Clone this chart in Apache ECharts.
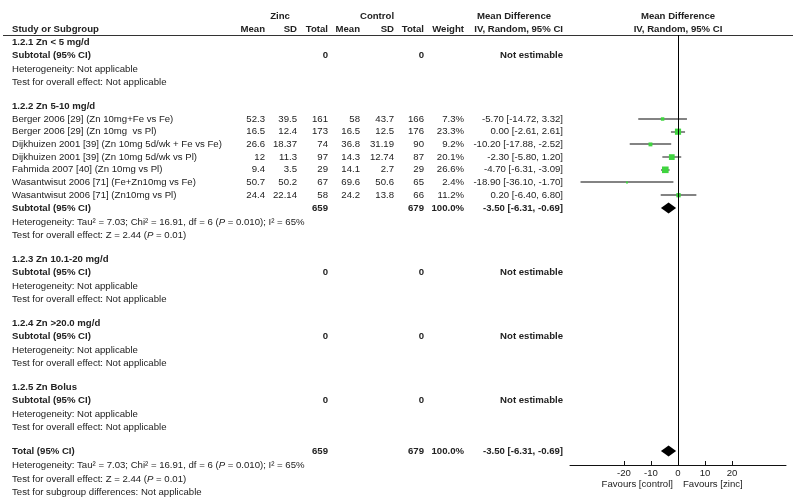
<!DOCTYPE html>
<html><head><meta charset="utf-8">
<script src="https://cdn.jsdelivr.net/npm/echarts@6/dist/echarts.min.js"></script>
<style>html,body{margin:0;padding:0;background:#fff}#c{width:799px;height:500px}</style>
</head><body><div id="c"></div>
<script>
// ---------------- data ----------------
const subgroups = ["1.2.1 Zn < 5 mg/d", "1.2.2 Zn 5-10 mg/d", "1.2.3 Zn 10.1-20 mg/d", "1.2.4 Zn >20.0 mg/d", "1.2.5 Zn Bolus"];
const subgroupStudyCount = [0, 7, 0, 0, 0];
const studies = [
  "Berger 2006 [29] (Zn 10mg+Fe vs Fe)",
  "Berger 2006 [29] (Zn 10mg  vs Pl)",
  "Dijkhuizen 2001 [39] (Zn 10mg 5d/wk + Fe vs Fe)",
  "Dijkhuizen 2001 [39] (Zn 10mg 5d/wk vs Pl)",
  "Fahmida 2007 [40] (Zn 10mg vs Pl)",
  "Wasantwisut 2006 [71] (Fe+Zn10mg vs Fe)",
  "Wasantwisut 2006 [71] (Zn10mg vs Pl)"
];
const zincMean = [52.3, 16.5, 26.6, 12, 9.4, 50.7, 24.4];
const zincSD   = [39.5, 12.4, 18.37, 11.3, 3.5, 50.2, 22.14];
const zincN    = [161, 173, 74, 97, 29, 67, 58];
const ctrlMean = [58, 16.5, 36.8, 14.3, 14.1, 69.6, 24.2];
const ctrlSD   = [43.7, 12.5, 31.19, 12.74, 2.7, 50.6, 13.8];
const ctrlN    = [166, 176, 90, 87, 29, 65, 66];
const weights  = [7.3, 23.3, 9.2, 20.1, 26.6, 2.4, 11.2];
const mdEst    = [-5.70, 0.00, -10.20, -2.30, -4.70, -18.90, 0.20];
const mdLow    = [-14.72, -2.61, -17.88, -5.80, -6.31, -36.10, -6.40];
const mdHigh   = [3.32, 2.61, -2.52, 1.20, -3.09, -1.70, 6.80];
const pooledEst = -3.50, pooledLow = -6.31, pooledHigh = -0.69;
const zincTotal = 659, ctrlTotal = 679;
const hetRich = "Heterogeneity: Tau² = 7.03; Chi² = 16.91, df = 6 ({i|P} = 0.010); I² = 65%";
const overallRich = "Test for overall effect: Z = 2.44 ({i|P} = 0.01)";
const xTicks = [-20, -10, 0, 10, 20];

// ---------------- styles / layout ----------------
const FONT = "'Liberation Sans', Arial, sans-serif";
const FS = 9.6;
const TXT = '#222';
const GREEN = '#3fd43f';
const TOP = 35, BOTTOM = 465;
const col = {name: 12, zm: 265, zsd: 297, zn: 328, cm: 360, csd: 394, cn: 424, w: 464, md: 563};

const texts = [];
function t(str, x, y, opt) {
  opt = opt || {};
  texts.push({
    type: 'text', silent: true,
    style: {
      text: str, x: x, y: y, fill: TXT, fontFamily: FONT, fontSize: FS,
      fontWeight: opt.bold ? 'bold' : 'normal', align: opt.align || 'left', verticalAlign: 'middle',
      rich: {i: {fontStyle: 'italic', fontFamily: FONT, fontSize: FS, fill: TXT, fontWeight: opt.bold ? 'bold' : 'normal'}}
    }
  });
}
const fmt = v => String(v);
const ci = (e, l, h) => e.toFixed(2) + ' [' + l.toFixed(2) + ', ' + h.toFixed(2) + ']';

// headers
t('Zinc', 280, 16, {bold: true, align: 'center'});
t('Control', 377, 16, {bold: true, align: 'center'});
t('Mean Difference', 477, 16, {bold: true});
t('Mean Difference', 678, 16, {bold: true, align: 'center'});
t('Study or Subgroup', col.name, 29, {bold: true});
[['Mean', col.zm], ['SD', col.zsd], ['Total', col.zn], ['Mean', col.cm], ['SD', col.csd], ['Total', col.cn], ['Weight', col.w], ['IV, Random, 95% CI', col.md]]
  .forEach(h => t(h[0], h[1], 29, {bold: true, align: 'right'}));
t('IV, Random, 95% CI', 678, 29, {bold: true, align: 'center'});

const ciData = [], sqData = [], dmData = [];
let y = 42, si = 0;
subgroups.forEach((g, gi) => {
  t(g, col.name, y, {bold: true});
  const n = subgroupStudyCount[gi];
  y += 13;
  for (let k = 0; k < n; k++, si++) {
    t(studies[si], col.name, y);
    t(fmt(zincMean[si]), col.zm, y, {align: 'right'});
    t(fmt(zincSD[si]), col.zsd, y, {align: 'right'});
    t(fmt(zincN[si]), col.zn, y, {align: 'right'});
    t(fmt(ctrlMean[si]), col.cm, y, {align: 'right'});
    t(fmt(ctrlSD[si]), col.csd, y, {align: 'right'});
    t(fmt(ctrlN[si]), col.cn, y, {align: 'right'});
    t(weights[si].toFixed(1) + '%', col.w, y, {align: 'right'});
    t(ci(mdEst[si], mdLow[si], mdHigh[si]), col.md, y, {align: 'right'});
    ciData.push([mdLow[si], mdHigh[si], y - TOP]);
    sqData.push([mdEst[si], y - TOP, weights[si]]);
    y += 12.7;
  }
  t('Subtotal (95% CI)', col.name, y, {bold: true});
  if (n === 0) {
    t('0', col.zn, y, {bold: true, align: 'right'});
    t('0', col.cn, y, {bold: true, align: 'right'});
    t('Not estimable', col.md, y, {bold: true, align: 'right'});
    y += 14; t('Heterogeneity: Not applicable', col.name, y);
    y += 13.5; t('Test for overall effect: Not applicable', col.name, y);
  } else {
    t(fmt(zincTotal), col.zn, y, {bold: true, align: 'right'});
    t(fmt(ctrlTotal), col.cn, y, {bold: true, align: 'right'});
    t('100.0%', col.w, y, {bold: true, align: 'right'});
    t(ci(pooledEst, pooledLow, pooledHigh), col.md, y, {bold: true, align: 'right'});
    dmData.push([pooledLow, pooledEst, pooledHigh, y - TOP]);
    y += 14; t(hetRich, col.name, y);
    y += 13.5; t(overallRich, col.name, y);
  }
  y += 23.5;
});
// overall total
t('Total (95% CI)', col.name, y, {bold: true});
t(fmt(zincTotal), col.zn, y, {bold: true, align: 'right'});
t(fmt(ctrlTotal), col.cn, y, {bold: true, align: 'right'});
t('100.0%', col.w, y, {bold: true, align: 'right'});
t(ci(pooledEst, pooledLow, pooledHigh), col.md, y, {bold: true, align: 'right'});
dmData.push([pooledLow, pooledEst, pooledHigh, y - TOP]);
y += 14.5; t(hetRich, col.name, y);
y += 13.5; t(overallRich, col.name, y);
y += 13.5; t('Test for subgroup differences: Not applicable', col.name, y);

texts.push({type: 'line', silent: true, shape: {x1: 3, y1: TOP + 0.5, x2: 793, y2: TOP + 0.5}, style: {stroke: '#333', lineWidth: 1}});

const chart = echarts.init(document.getElementById('c'), null, {renderer: 'canvas'});
chart.setOption({
  animation: false,
  backgroundColor: '#fff',
  grid: {left: 570, top: TOP, width: 216, height: BOTTOM - TOP, containLabel: false},
  xAxis: {
    type: 'value', min: -40, max: 40, interval: 10, position: 'bottom',
    axisLine: {show: true, onZero: false, lineStyle: {color: '#111', width: 1}},
    axisTick: {show: true, inside: true, length: 4, customValues: xTicks, lineStyle: {color: '#111'}},
    axisLabel: {show: true, customValues: xTicks, margin: 3, fontSize: FS, fontFamily: FONT, color: TXT},
    splitLine: {show: false}
  },
  yAxis: {type: 'value', min: 0, max: BOTTOM - TOP, inverse: true, show: false},
  graphic: texts,
  series: [
    {
      type: 'custom', data: ciData, z: 2,
      renderItem: (p, api) => {
        const a = api.coord([api.value(0), api.value(2)]);
        const b = api.coord([api.value(1), api.value(2)]);
        return {type: 'line', shape: {x1: a[0], y1: Math.round(a[1]), x2: b[0], y2: Math.round(b[1])}, style: {stroke: '#5a5a5a', lineWidth: 1.4}};
      },
      markLine: {
        silent: true, symbol: 'none', label: {show: false},
        lineStyle: {color: '#000', width: 1, type: 'solid'},
        data: [{xAxis: 0}]
      }
    },
    {
      type: 'scatter', data: sqData, z: 3, symbol: 'rect',
      symbolSize: v => Math.max(2, 1.28 * Math.sqrt(v[2])),
      itemStyle: {color: GREEN, opacity: 1}
    },
    {
      type: 'custom', data: dmData, z: 4,
      renderItem: (p, api) => {
        const yy = api.value(3);
        const l = api.coord([api.value(0), yy]);
        const m = api.coord([api.value(1), yy]);
        const h = api.coord([api.value(2), yy]);
        const hh = 5.5;
        return {type: 'polygon', shape: {points: [[l[0], l[1]], [m[0], m[1] - hh], [h[0], h[1]], [m[0], m[1] + hh]]}, style: {fill: '#000'}};
      }
    }
  ]
});
const zx = chart.convertToPixel({xAxisIndex: 0}, 0);
texts.push({type: 'text', silent: true, style: {text: 'Favours [control]', x: zx - 5, y: 484, align: 'right', verticalAlign: 'middle', fontFamily: FONT, fontSize: FS, fill: TXT}});
texts.push({type: 'text', silent: true, style: {text: 'Favours [zinc]', x: zx + 5, y: 484, align: 'left', verticalAlign: 'middle', fontFamily: FONT, fontSize: FS, fill: TXT}});
chart.setOption({graphic: texts}, {replaceMerge: ['graphic']});
</script>
</body></html>
